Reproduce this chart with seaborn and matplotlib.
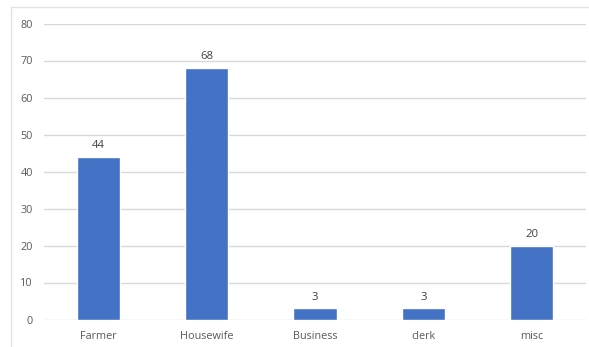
import matplotlib
matplotlib.use("Agg")
import matplotlib.pyplot as plt
import seaborn as sns
import pandas as pd
from matplotlib.patches import Rectangle

categories = ["Farmer", "Housewife", "Business", "clerk", "misc"]
values = [44, 68, 3, 3, 20]
yticks = [0, 10, 20, 30, 40, 50, 60, 70, 80]

df = pd.DataFrame({"cat": categories, "val": values})

sns.set_theme(style="white")
plt.rcParams['font.family'] = ['Open Sans', 'DejaVu Sans']

fig = plt.figure(figsize=(5.89, 3.47), dpi=100)
fig.patches.append(Rectangle((11/589, -0.1), 1.2, 1 - 7/347 + 0.1, transform=fig.transFigure,
                             fill=False, edgecolor="#E3E3E3", linewidth=1.0))
ax = fig.add_axes([44/589, 1 - 319.5/347, (586 - 44)/589, (319.5 - 23.5)/347])

sns.barplot(data=df, x="cat", y="val", color="#4472C4", width=0.4, ax=ax,
            saturation=1, zorder=3)

ax.set_ylim(0, 80)
ax.set_yticks(yticks)
ax.set_xlim(-0.5, 4.5)
ax.yaxis.grid(True, color="#D9D9D9", linewidth=1.0, zorder=0)
ax.xaxis.grid(False)
for s in ax.spines.values():
    s.set_visible(False)
ax.set_xlabel("")
ax.set_ylabel("")
ax.tick_params(axis="both", length=0, labelsize=7.8, colors="#595959")
ax.tick_params(axis="y", pad=8)
ax.tick_params(axis="x", pad=8)

for i, v in enumerate(values):
    ax.annotate(str(v), (i, v), xytext=(0, 4), textcoords="offset points",
                ha="center", va="bottom", fontsize=8.2, color="#404040")

fig.savefig("out.png", dpi=100)
